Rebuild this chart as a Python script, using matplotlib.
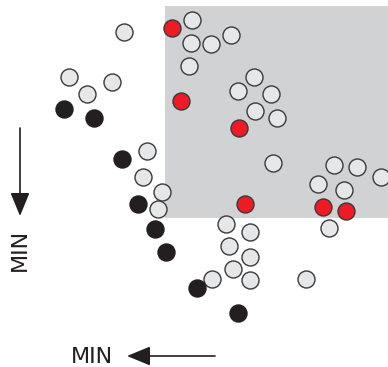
import matplotlib
matplotlib.use("Agg")
import matplotlib.pyplot as plt
from matplotlib.patches import Rectangle

# point positions (x to the right, y downward)
grey_x = [124, 69, 87, 112, 147, 143, 162, 158, 192, 191, 211, 231, 189,
          254, 238, 271, 255, 277, 273, 334, 357, 381, 318, 344, 329,
          226, 250, 229, 250, 233, 250, 212, 306]
grey_y = [32, 77, 94, 82, 151, 177, 192, 209, 20, 43, 44, 35, 66,
          77, 91, 94, 111, 118, 163, 165, 167, 177, 184, 190, 228,
          224, 232, 246, 257, 269, 280, 279, 279]

black_x = [64, 94, 122, 138, 155, 166, 197, 238]
black_y = [109, 118, 159, 204, 229, 252, 288, 313]

red_x = [172, 181, 239, 245, 323, 346]
red_y = [28, 101, 128, 204, 207, 211]

# shaded region (x0, y0, x1, y1)
zone = (165, 6, 388, 218)

W, H = 388, 367
fig = plt.figure(figsize=(W / 100, H / 100), dpi=100)
ax = fig.add_axes([0, 0, 1, 1])
ax.set_xlim(0, W)
ax.set_ylim(H, 0)
ax.axis('off')

ax.add_patch(Rectangle((zone[0], zone[1]), zone[2] - zone[0], zone[3] - zone[1],
                       facecolor='#d1d2d4', edgecolor='none', zorder=1))

ms = 150
ax.scatter(grey_x, grey_y, s=ms, c='#e6e7e8', edgecolors='#3a3a3a', linewidths=1.0, zorder=3)
ax.scatter(black_x, black_y, s=ms, c='#231f20', edgecolors='#231f20', linewidths=1.0, zorder=4)
ax.scatter(red_x, red_y, s=ms, c='#ed1c24', edgecolors='#3a3a3a', linewidths=1.0, zorder=5)

# axis arrows
arrow = dict(arrowstyle='-|>,head_length=0.8,head_width=0.33', color='#231f20',
             lw=1.2, mutation_scale=18, shrinkA=0, shrinkB=0)
ax.annotate('', xy=(20, 216), xytext=(20, 128), arrowprops=arrow)
ax.annotate('', xy=(127, 356), xytext=(215, 356), arrowprops=arrow)

ax.text(20, 250, 'MIN', rotation=90, ha='center', va='center', fontsize=16, color='#231f20')
ax.text(92, 357, 'MIN', ha='center', va='center', fontsize=16, color='#231f20')

fig.savefig('out.png', dpi=100)
